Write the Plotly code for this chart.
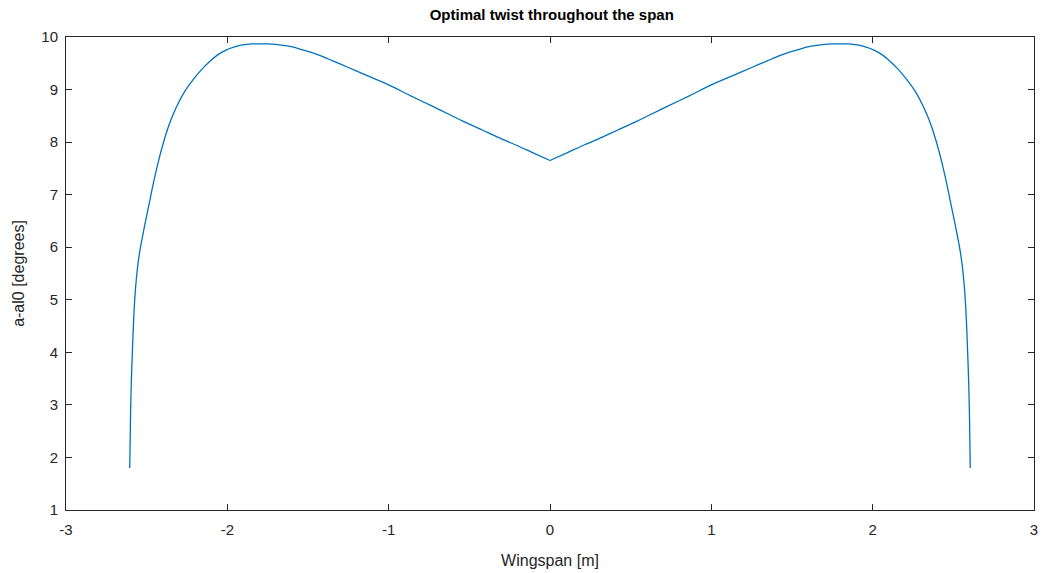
import plotly.graph_objects as go

span_left = [-2.605, -2.600, -2.595, -2.588, -2.581, -2.572, -2.560, -2.545, -2.530, -2.510,
             -2.485, -2.461, -2.430, -2.399, -2.360, -2.317, -2.265, -2.214, -2.160, -2.111,
             -2.060, -2.008, -1.955, -1.905, -1.850, -1.802, -1.750, -1.700, -1.650, -1.597,
             -1.550, -1.494, -1.420, -1.350, -1.250, -1.144, -1.000, -0.870, -0.733, -0.627,
             -0.527, -0.421, -0.321, -0.215, -0.115, 0.000]
twist_left = [1.80, 2.80, 3.45, 4.06, 4.60, 5.10, 5.52, 5.88, 6.14, 6.45,
              6.82, 7.18, 7.60, 7.96, 8.34, 8.66, 8.96, 9.18, 9.38, 9.53,
              9.66, 9.75, 9.81, 9.85, 9.87, 9.87, 9.87, 9.86, 9.84, 9.81,
              9.77, 9.72, 9.64, 9.55, 9.42, 9.28, 9.09, 8.89, 8.69, 8.53,
              8.38, 8.23, 8.09, 7.95, 7.81, 7.65]
span_right = [0.000, 0.115, 0.215, 0.321, 0.421, 0.527, 0.627, 0.733, 0.870, 1.000,
              1.144, 1.250, 1.350, 1.420, 1.494, 1.550, 1.597, 1.650, 1.700, 1.750,
              1.802, 1.850, 1.905, 1.955, 2.008, 2.060, 2.111, 2.160, 2.214, 2.265,
              2.317, 2.360, 2.399, 2.430, 2.461, 2.485, 2.510, 2.530, 2.545, 2.560,
              2.572, 2.581, 2.588, 2.595, 2.600, 2.605]
twist_right = [7.65, 7.81, 7.95, 8.09, 8.23, 8.38, 8.53, 8.69, 8.89, 9.09,
               9.28, 9.42, 9.55, 9.64, 9.72, 9.77, 9.81, 9.84, 9.86, 9.87,
               9.87, 9.87, 9.85, 9.81, 9.75, 9.66, 9.53, 9.38, 9.18, 8.96,
               8.66, 8.34, 7.96, 7.60, 7.18, 6.82, 6.45, 6.14, 5.88, 5.52,
               5.10, 4.60, 4.06, 3.45, 2.80, 1.80]

x_ticks = [-3, -2, -1, 0, 1, 2, 3]
y_ticks = [1, 2, 3, 4, 5, 6, 7, 8, 9, 10]

fig = go.Figure()
for xs, ys in ((span_left, twist_left), (span_right, twist_right)):
    fig.add_trace(go.Scatter(
        x=xs, y=ys, mode="lines",
        line=dict(color="#0072BD", width=1.3, shape="spline", smoothing=0.8),
        showlegend=False,
    ))

FONT = "Liberation Sans, Arial, sans-serif"
axis_common = dict(
    showgrid=False, zeroline=False,
    showline=True, linecolor="#262626", linewidth=1, mirror="ticks",
    ticks="inside", ticklen=6, tickwidth=1, tickcolor="#262626",
    tickfont=dict(family=FONT, size=15, color="#262626"),
)

fig.update_layout(
    width=1045, height=573,
    margin=dict(l=66, r=7, t=37, b=62),
    paper_bgcolor="white", plot_bgcolor="white",
    font=dict(family=FONT, color="#262626"),
    title=dict(
        text="<b>Optimal twist throughout the span</b>",
        x=0.528, xanchor="center", y=0.975, yanchor="middle",
        font=dict(size=15, color="black"),
    ),
    xaxis=dict(range=[-3, 3], tickvals=x_ticks, ticktext=[str(v) for v in x_ticks],
               ticklabelstandoff=6,
               title=dict(text="Wingspan [m]", font=dict(size=16, color="#262626"), standoff=17),
               **axis_common),
    yaxis=dict(range=[1, 10], tickvals=y_ticks, ticktext=[str(v) for v in y_ticks],
               ticklabelstandoff=4,
               title=dict(text="a-al0 [degrees]", font=dict(size=16, color="#262626"), standoff=12),
               **axis_common),
)

fig.write_html("out.html")
